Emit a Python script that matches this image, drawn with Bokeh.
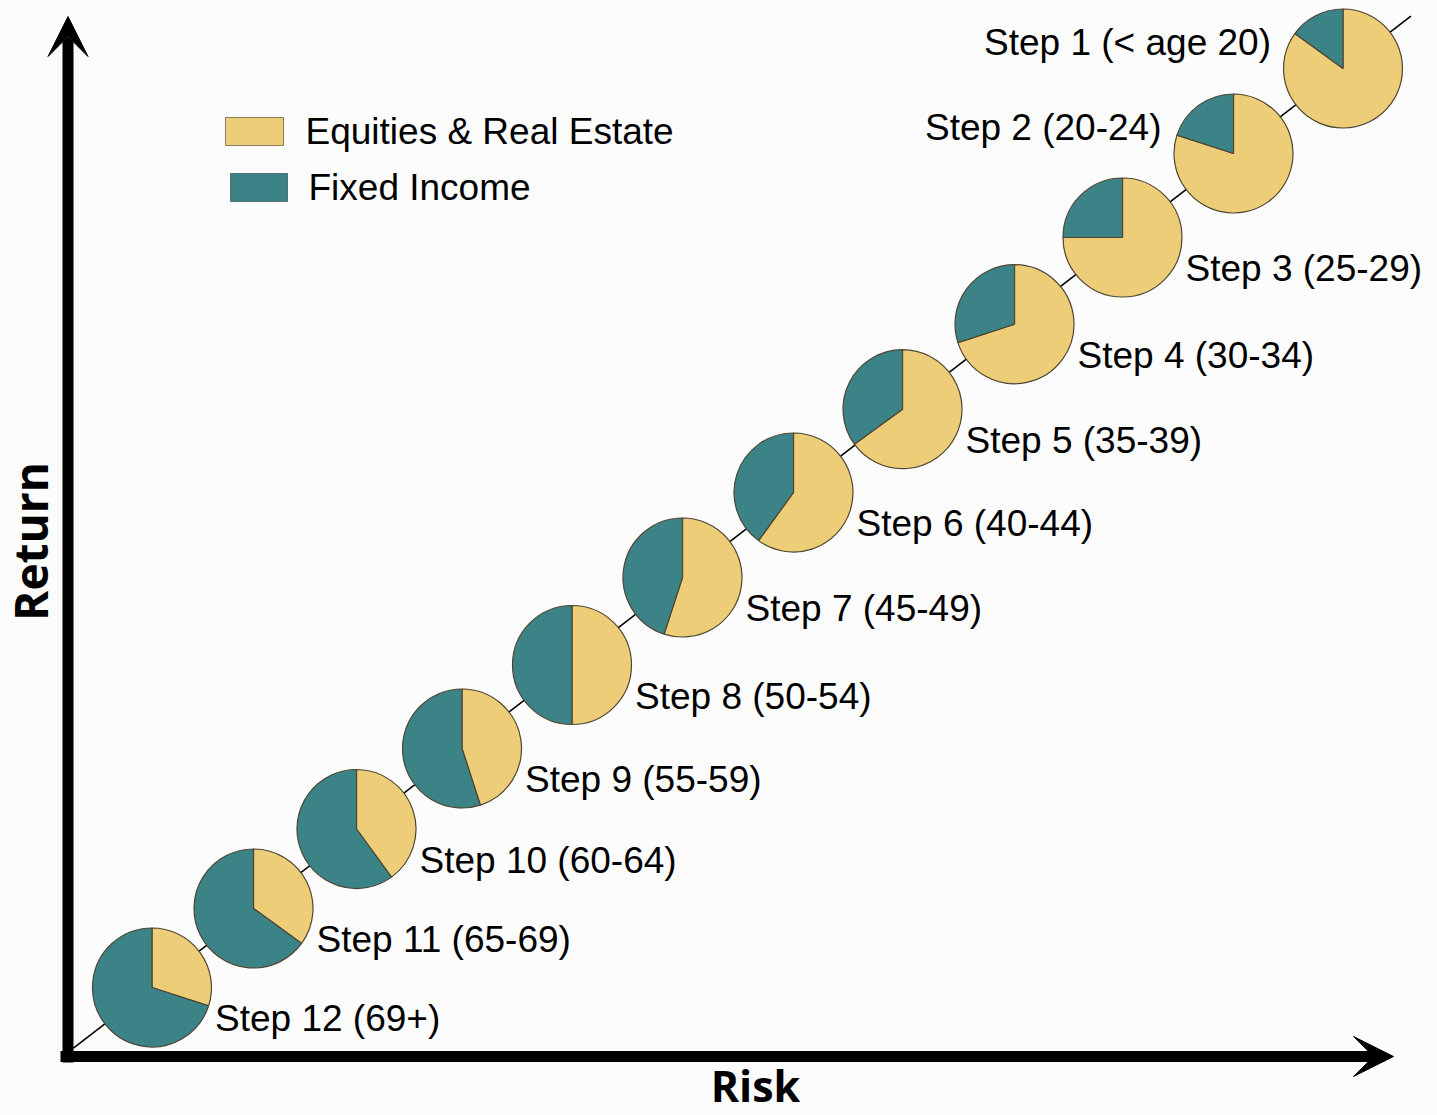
import math
from bokeh.plotting import figure
from bokeh.models import ColumnDataSource, Arrow, VeeHead, Range1d, Label
from bokeh.core.properties import value
from bokeh.embed import file_html
from bokeh.resources import INLINE

# ---------------- data ----------------
steps = ["Step 1 (< age 20)", "Step 2 (20-24)", "Step 3 (25-29)", "Step 4 (30-34)",
         "Step 5 (35-39)", "Step 6 (40-44)", "Step 7 (45-49)", "Step 8 (50-54)",
         "Step 9 (55-59)", "Step 10 (60-64)", "Step 11 (65-69)", "Step 12 (69+)"]
equities = [85, 80, 75, 70, 65, 60, 55, 50, 45, 40, 35, 30]
fixed_income = [15, 20, 25, 30, 35, 40, 45, 50, 55, 60, 65, 70]
risk = [1342.5, 1233, 1122, 1014, 902, 793, 682, 571.5, 461.5, 356, 253, 151.5]
ret = [1047, 962, 878, 791.3, 706.3, 623, 538, 450.5, 367, 286.5, 207, 128]
series_names = ["Equities & Real Estate", "Fixed Income"]

# ---------------- style ----------------
W, H = 1437, 1115
BG = "#fcfcfc"
YELLOW = "#edcd78"
TEAL = "#3c8387"
EDGE = "#4f4633"
R = 59.5
LABEL_FONT = "Liberation Sans"

top = math.pi / 2
eq_start = [top - 2 * math.pi * e / 100 for e in equities]
eq_end = [top] * len(equities)
fi_start = [top] * len(fixed_income)
fi_end = [top + 2 * math.pi * f / 100 for f in fixed_income]

src = ColumnDataSource(dict(x=risk, y=ret, eq_start=eq_start, eq_end=eq_end,
                            fi_start=fi_start, fi_end=fi_end, label=steps))

p = figure(width=W, height=H, x_range=Range1d(0, W), y_range=Range1d(0, H),
           output_backend="svg", toolbar_location=None, min_border=0,
           x_axis_location=None, y_axis_location=None)
p.grid.visible = False
p.outline_line_color = None
p.background_fill_color = BG
p.border_fill_color = BG

# diagonal glide line through the first and last pies, extended a little
dx = risk[0] - risk[-1]
dy = ret[0] - ret[-1]
lo, hi = 0.066, 0.057
p.line([risk[-1] - lo * dx, risk[0] + hi * dx], [ret[-1] - lo * dy, ret[0] + hi * dy],
       line_color="black", line_width=1.6)

# axes as arrows
x_axis_y = 59
y_axis_x = 67.5
p.add_layout(Arrow(end=VeeHead(size=40, fill_color="black", line_color="black", line_width=1),
                   x_start=60, y_start=x_axis_y, x_end=1393, y_end=x_axis_y,
                   line_color="black", line_width=11))
p.add_layout(Arrow(end=VeeHead(size=40, fill_color="black", line_color="black", line_width=1),
                   x_start=y_axis_x, y_start=53, x_end=y_axis_x, y_end=1099,
                   line_color="black", line_width=11))

# pies
p.wedge(x="x", y="y", radius=R, start_angle="eq_start", end_angle="eq_end", source=src,
        fill_color=YELLOW, line_color=EDGE, line_width=1.2)
p.wedge(x="x", y="y", radius=R, start_angle="fi_start", end_angle="fi_end", source=src,
        fill_color=TEAL, line_color=EDGE, line_width=1.2)

# step labels
src_upper = ColumnDataSource(dict(x=risk[:2], y=ret[:2], label=steps[:2]))
src_lower = ColumnDataSource(dict(x=risk[2:], y=ret[2:], label=steps[2:]))
p.text(x="x", y="y", text="label", source=src_upper, x_offset=-72, y_offset=-26,
       text_align="right", text_baseline="middle", text_font=value(LABEL_FONT),
       text_font_size="37px", text_color="black")
p.text(x="x", y="y", text="label", source=src_lower, x_offset=63, y_offset=31,
       text_align="left", text_baseline="middle", text_font=value(LABEL_FONT),
       text_font_size="37px", text_color="black")

# legend (manual)
p.quad(left=[225], right=[283], top=[H - 117], bottom=[H - 145],
       fill_color=YELLOW, line_color="#8a7d5c", line_width=1)
p.quad(left=[230], right=[287], top=[H - 173], bottom=[H - 201],
       fill_color=TEAL, line_color="#55706f", line_width=1)
p.add_layout(Label(x=305, y=H - 131, text=series_names[0], text_font=LABEL_FONT,
                   text_font_size="37px", text_baseline="middle", text_align="left",
                   text_color="black"))
p.add_layout(Label(x=308, y=H - 187, text=series_names[1], text_font=LABEL_FONT,
                   text_font_size="37px", text_baseline="middle", text_align="left",
                   text_color="black"))

# axis titles
p.add_layout(Label(x=29, y=H - 541, text="Return", angle=math.pi / 2,
                   text_font="Open Sans", text_font_style="bold", text_font_size="46px",
                   text_align="center", text_baseline="middle", text_color="black"))
p.add_layout(Label(x=755, y=H - 1085, text="Risk",
                   text_font="Open Sans", text_font_style="bold", text_font_size="43px",
                   text_align="center", text_baseline="middle", text_color="black"))

open("out.html", "w").write(file_html(p, INLINE))
